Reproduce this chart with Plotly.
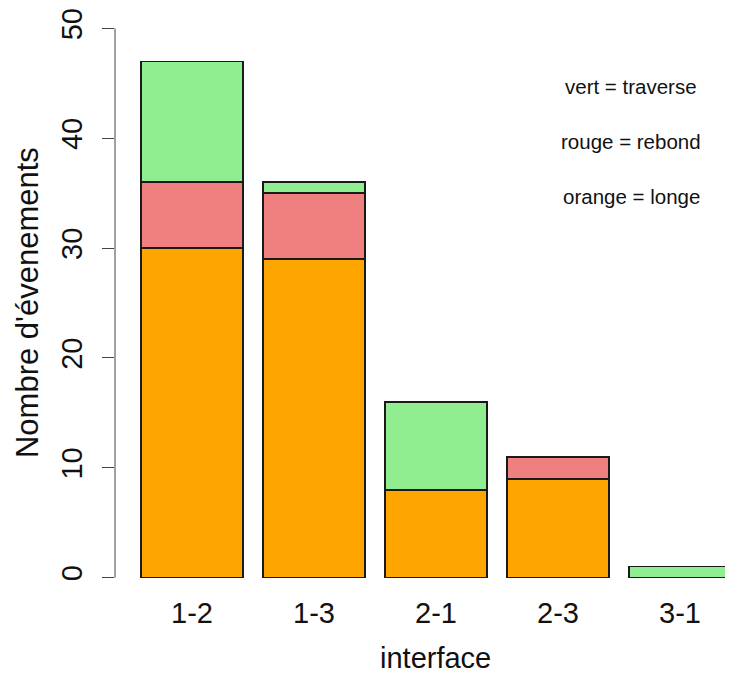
import plotly.graph_objects as go

categories = ["1-2", "1-3", "2-1", "2-3", "3-1"]
longe = [30, 29, 8, 9, 0]      # orange
rebond = [6, 6, 0, 2, 0]       # rouge
traverse = [11, 1, 8, 0, 1]    # vert
y_ticks = [0, 10, 20, 30, 40, 50]
legend_lines = ["vert = traverse", "rouge = rebond", "orange = longe"]
legend_y = [45, 40, 35]

FONT = "Liberation Sans, Arial, sans-serif"
line = dict(color="#1a1a1a", width=1.6)

fig = go.Figure()
fig.add_bar(x=categories, y=longe, marker=dict(color="#FFA500", line=line), name="longe")
fig.add_bar(x=categories, y=rebond, marker=dict(color="#F08080", line=line), name="rebond")
fig.add_bar(x=categories, y=traverse, marker=dict(color="#90EE90", line=line), name="traverse")

# page has an 8px body margin: figure coordinates = screen - 8
W, H = 725, 669
L, R, T = 107, 0, 0
px_per_unit = 10.98
y_zero = 569.5
y_top = y_zero / px_per_unit
y_bot = -1.4
plot_bottom = y_zero - y_bot * px_per_unit
B = H - plot_bottom
ph = plot_bottom - T
pw = W - L - R
px_per_cat = 122.0
first_center = 184.0
x0 = -(first_center - L) / px_per_cat
x1 = x0 + pw / px_per_cat

fig.update_layout(
    barmode="stack",
    bargap=1 / 6,
    width=W, height=H,
    margin=dict(l=L, r=R, t=T, b=B, pad=0),
    plot_bgcolor="white", paper_bgcolor="white",
    showlegend=False,
    font=dict(family=FONT, size=29, color="#111111"),
    xaxis=dict(range=[x0, x1], showline=False, ticks="", showgrid=False, zeroline=False,
               tickfont=dict(size=29)),
    yaxis=dict(range=[y_bot, y_top], tickvals=y_ticks, ticks="outside", ticklen=12,
               tickcolor="#444444", tickwidth=1, showline=False, showgrid=False,
               zeroline=False, tickangle=-90, tickfont=dict(size=29),
               ticklabelstandoff=8),
)

# y axis line from 0 to 50 (R style)
fig.add_shape(type="line", xref="paper", yref="y", x0=0, x1=0, y0=y_ticks[0], y1=y_ticks[-1],
              line=dict(color="#444444", width=1))

# axis titles
fig.add_annotation(text="Nombre d'évenements", xref="paper", yref="paper",
                   x=(19 - L) / pw, y=1 - (303 - 8 - T) / ph, textangle=-90, showarrow=False,
                   font=dict(size=31, family=FONT), xanchor="center", yanchor="middle")
fig.add_annotation(text="interface", xref="paper", yref="paper",
                   x=(427 - L) / pw, y=-(H - 1 - plot_bottom) / ph, showarrow=False,
                   font=dict(size=29, family=FONT), xanchor="center", yanchor="bottom")

for txt, yy in zip(legend_lines, legend_y):
    fig.add_annotation(text=txt, x=(623 - first_center) / px_per_cat, y=yy, xref="x", yref="y",
                       showarrow=False, font=dict(size=20.5, family=FONT, color="#111111"),
                       xanchor="center", yanchor="middle", yshift=-3)

fig.write_html("out.html")
